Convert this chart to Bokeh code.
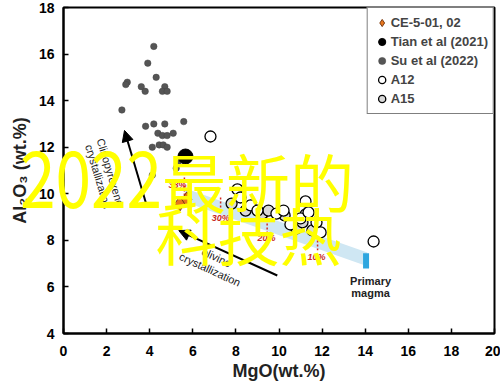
from bokeh.plotting import figure
from bokeh.layouts import column
from bokeh.models import Range1d, Legend, LegendItem, Label, Arrow, NormalHead, FixedTicker, Div
from bokeh.core.properties import value
from bokeh.embed import file_html
from bokeh.resources import INLINE

# ---------------- data ----------------
x_ticks = [0, 2, 4, 6, 8, 10, 12, 14, 16, 18, 20]
y_ticks = [4, 6, 8, 10, 12, 14, 16, 18]

su_mgo = [4.19, 3.91, 4.30, 2.96, 2.89, 3.61, 3.79, 4.70, 4.59, 4.81, 2.71, 5.58, 3.81,
          4.19, 4.70, 4.38, 4.59, 4.81, 5.09, 4.12, 4.44, 4.63, 4.81, 5.30, 5.23, 4.12]
su_al = [16.33, 15.61, 15.00, 14.79, 14.69, 14.60, 14.40, 14.60, 14.40, 14.40, 13.60, 13.10, 12.90,
         13.00, 13.00, 12.60, 12.50, 12.50, 12.60, 12.00, 12.10, 12.10, 12.00, 11.30, 11.10, 10.80]

tian_mgo = [5.66]
tian_al = [11.6]

ce_mgo = [5.40, 5.72]
ce_al = [9.58, 9.76]

a12_mgo = [6.82, 8.07, 8.21, 8.68, 9.00, 9.88, 10.21, 10.53, 11.00, 11.23, 11.37, 11.74, 11.93, 14.39]
a12_al = [12.46, 10.19, 9.84, 9.50, 9.28, 9.15, 9.28, 8.68, 8.94, 9.67, 9.20, 8.77, 8.34, 7.95]

a15_mgo = [7.80, 8.45, 9.23, 9.51, 10.26, 10.81, 11.23, 11.55, 11.09]
a15_al = [9.58, 9.28, 9.15, 9.28, 9.07, 8.51, 9.11, 8.43, 8.77]

band_mgo = [5.6, 14.0]
band_al = [9.95, 7.22]

primary_mgo = [14.04]
primary_al = [7.12]
primary_span = [0.65]

pct_labels = ["38%", "30%", "20%", "10%"]
pct_line_mgo = [5.61, 7.29, 9.45, 11.79]
pct_line_top = [10.70, 9.84, 9.07, 8.17]
pct_line_bot = [9.63, 9.20, 8.34, 7.57]
pct_text_mgo = [5.29, 7.30, 9.42, 11.74]
pct_text_al = [10.36, 8.98, 8.12, 7.27]

cpx_arrow = [3.88, 9.43, 2.83, 12.72]     # x0, y0, x1, y1
ol_arrow = [9.92, 6.49, 5.35, 8.42]

# ---------------- figure ----------------
W, H = 500, 392
p = figure(width=W, height=H, output_backend="svg", toolbar_location=None,
           x_range=Range1d(0, 20), y_range=Range1d(4, 18),
           min_border_left=63, min_border_right=6, min_border_top=7, min_border_bottom=59)
p.grid.visible = False
p.background_fill_color = "white"
p.border_fill_color = "white"
p.outline_line_color = "black"
p.outline_line_width = 2
p.outline_line_alpha = 1

for ax in (p.xaxis[0], p.yaxis[0]):
    ax.major_tick_in = 5
    ax.major_tick_out = 0
    ax.minor_tick_in = 0
    ax.minor_tick_out = 0
    ax.axis_line_width = 2
    ax.major_tick_line_width = 1.5
    ax.major_label_text_font = "Liberation Sans"
    ax.major_label_text_font_style = "bold"
    ax.major_label_text_font_size = "14px"
    ax.major_label_text_color = "black"
    ax.axis_label_text_font = "Liberation Sans"
    ax.axis_label_text_font_style = "bold"
    ax.axis_label_text_font_size = "18px"
    ax.axis_label_text_color = "#222222"

p.xaxis.ticker = FixedTicker(ticks=x_ticks)
p.yaxis.ticker = FixedTicker(ticks=y_ticks)
p.xaxis.axis_label = "MgO(wt.%)"
p.yaxis.axis_label = "Al\u2082O\u2083 (wt.%)"
p.xaxis.major_label_standoff = 12
p.yaxis.major_label_standoff = 9
p.xaxis.axis_label_standoff = 2
p.yaxis.axis_label_standoff = 6

# band and primary magma
p.line(band_mgo, band_al, line_width=13, line_color="#cfe7f3", line_cap="butt")
p.rect(x=primary_mgo, y=primary_al, width=6, width_units="screen", height=primary_span,
       fill_color="#2ea6df", line_color=None)

# percentage markers
p.segment(x0=pct_line_mgo, y0=pct_line_top, x1=pct_line_mgo, y1=pct_line_bot,
          line_color="#d42a20", line_width=1.5, line_dash="2 2")
p.text(x=pct_text_mgo, y=pct_text_al, text=pct_labels, text_color="#c8281e",
       text_font=value("Liberation Sans"), text_font_style="bold italic",
       text_font_size="9px", text_align="center", text_baseline="middle")

# arrows
p.add_layout(Arrow(end=NormalHead(size=11, fill_color="black", line_color="black"),
                   x_start=cpx_arrow[0], y_start=cpx_arrow[1], x_end=cpx_arrow[2], y_end=cpx_arrow[3],
                   line_width=2, line_color="black"))
p.add_layout(Arrow(end=NormalHead(size=11, fill_color="black", line_color="black"),
                   x_start=ol_arrow[0], y_start=ol_arrow[1], x_end=ol_arrow[2], y_end=ol_arrow[3],
                   line_width=2, line_color="black"))

p.text(x=[2.18, 1.62], y=[10.92, 10.74], text=["Clinopyroxene", "crystallization"],
       angle=-1.28, text_font=value("Liberation Sans"), text_font_size="11px",
       text_color="#222222", text_align="center", text_baseline="middle")
p.text(x=[7.10, 6.80], y=[7.27, 6.75], text=["olivine", "crystallization"],
       angle=-0.43, text_font=value("Liberation Sans"), text_font_size="11px",
       text_color="#222222", text_align="center", text_baseline="middle")
p.text(x=[14.25, 14.25], y=[6.24, 5.72], text=["Primary", "magma"],
       text_font=value("Liberation Sans"), text_font_style="bold", text_font_size="11px",
       text_color="#222222", text_align="center", text_baseline="middle")

# data points
r_su = p.scatter(su_mgo, su_al, size=6.5, fill_color="#555555", line_color="#444444", line_width=0.5)
r_a15 = p.scatter(a15_mgo, a15_al, size=11, fill_color="#d8d8d8", line_color="black", line_width=1.3)
r_a12 = p.scatter(a12_mgo, a12_al, size=11, fill_color="white", line_color="black", line_width=1.3)
r_ce = p.scatter(ce_mgo, ce_al, marker="diamond", size=15, fill_color="#e8761e", line_color="#7a3a10", line_width=1)
r_tian = p.scatter(tian_mgo, tian_al, size=15, fill_color="black", line_color="black")

legend = Legend(items=[
    LegendItem(label="CE-5-01, 02", renderers=[r_ce]),
    LegendItem(label="Tian et al (2021)", renderers=[r_tian]),
    LegendItem(label="Su et al (2022)", renderers=[r_su]),
    LegendItem(label="A12", renderers=[r_a12]),
    LegendItem(label="A15", renderers=[r_a15]),
], location="top_right", margin=0, border_line_color="black", border_line_width=1.5,
    label_text_font="Liberation Sans", label_text_font_style="bold", label_text_font_size="13px",
    glyph_width=18, glyph_height=19, label_height=19, spacing=0, padding=5, label_standoff=0,
    background_fill_color="white", background_fill_alpha=1)
p.add_layout(legend)

# watermark, second line inside the frame
p.add_layout(Label(x=92, y=100, x_units="screen", y_units="screen", text="科技热",
                   text_font="Noto Sans CJK SC", text_font_size="62px", text_color="#ffff00",
                   text_baseline="alphabetic", level="overlay"))

# watermark, first line overlaps the axis area, so it is an overlaid text element
wm = Div(text='<span style="display:inline-block;transform:scaleY(1.22);'
              'transform-origin:50% 92%">2022</span>最新的',
         styles={
    "position": "absolute", "left": "20px", "top": "148px", "z-index": "10",
    "font-family": "'Noto Sans CJK SC'", "font-size": "64px", "line-height": "1",
    "color": "#ffff00", "white-space": "nowrap", "pointer-events": "none", "margin": "0"})

layout = column(p, wm, spacing=0)
open("out.html", "w").write(file_html(layout, INLINE))
